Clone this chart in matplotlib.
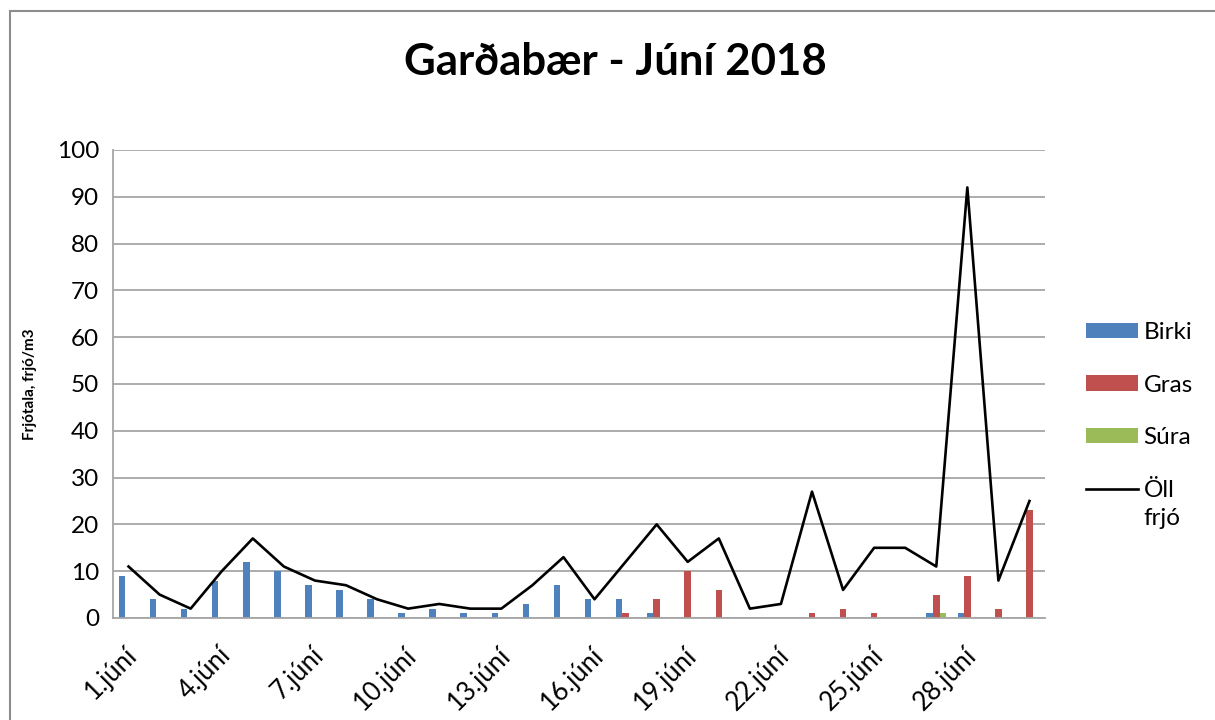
import numpy as np
import matplotlib
matplotlib.use("Agg")
import matplotlib.pyplot as plt
from matplotlib.patches import Rectangle
import matplotlib.transforms as mtransforms

plt.rcParams['font.family'] = ['Lato', 'DejaVu Sans']

# daily pollen counts, June 2018
days = list(range(1, 31))
birki = [9, 4, 2, 8, 12, 10, 7, 6, 4, 1, 2, 1, 1, 3, 7, 4, 4, 1, 0, 0,
         0, 0, 0, 0, 0, 0, 1, 1, 0, 0]
gras = [0, 0, 0, 0, 0, 0, 0, 0, 0, 0, 0, 0, 0, 0, 0, 0, 1, 4, 10, 6,
        0, 0, 1, 2, 1, 0, 5, 9, 2, 23]
sura = [0, 0, 0, 0, 0, 0, 0, 0, 0, 0, 0, 0, 0, 0, 0, 0, 0, 0, 0, 0,
        0, 0, 0, 0, 0, 0, 1, 0, 0, 0]
oll = [11, 5, 2, 10, 17, 11, 8, 7, 4, 2, 3, 2, 2, 7, 13, 4, 12, 20, 12, 17,
       2, 3, 27, 6, 15, 15, 11, 92, 8, 25]
xlabels = [f"{d}.júní" if (d - 1) % 3 == 0 else "" for d in days]

W, H = 1215, 720
fig = plt.figure(figsize=(W / 100, H / 100), dpi=100)
ax = fig.add_axes([113 / W, 1 - 618 / H, (1045 - 113) / W, (618 - 150) / H])

x = np.arange(len(days))
bw = 0.21
b1 = ax.bar(x - bw, birki, bw, color='#4F81BD', label='Birki', zorder=2)
b2 = ax.bar(x, gras, bw, color='#C0504D', label='Gras', zorder=2)
b3 = ax.bar(x + bw, sura, bw, color='#9BBB59', label='Súra', zorder=2)
l1, = ax.plot(x, oll, color='black', lw=1.9, label='Öll', zorder=3)

ax.set_xlim(-0.5, 29.5)
ax.set_ylim(0, 100)
ax.set_yticks(range(0, 101, 10))
ax.yaxis.grid(True, color='#a6a6a6', lw=1.3, zorder=0)
ax.set_axisbelow(True)
for s in ['top', 'right']:
    ax.spines[s].set_visible(False)
for s in ['left', 'bottom']:
    ax.spines[s].set_color('#a6a6a6')
    ax.spines[s].set_linewidth(1.3)
ax.tick_params(axis='y', length=0, pad=10, labelsize=17.5)
ax.tick_params(axis='x', length=0, pad=24, labelsize=18.5)
ax.set_xticks(x)
ax.set_xticklabels(xlabels, rotation=45, ha='right', va='center',
                   rotation_mode='anchor')
offset = mtransforms.ScaledTranslation(0.05, 0, fig.dpi_scale_trans)
for lab in ax.get_xticklabels():
    lab.set_transform(lab.get_transform() + offset)

fig.text(30 / W, 1 - 384 / H, 'Frjótala, frjó/m3', rotation=90, fontsize=11,
         fontweight='bold', ha='center', va='center')
fig.text(615 / W, 1 - 62 / H, 'Garðabær - Júní 2018', fontsize=31.5,
         fontweight='bold', ha='center', va='center')

leg = fig.legend([b1, b2, b3, l1], ['Birki', 'Gras', 'Súra', 'Öll'],
                 loc='upper left', bbox_to_anchor=(1086 / W, 1 - 322 / H),
                 frameon=False, fontsize=17.5, borderpad=0, borderaxespad=0,
                 handlelength=2.15, handleheight=0.6, handletextpad=0.22,
                 labelspacing=1.3)

fig.add_artist(Rectangle((10 / W, -0.1), 1.2, 1 - 10.5 / H + 0.1,
                         transform=fig.transFigure, fill=False,
                         ec='#8c8c8c', lw=1.5))

fig.canvas.draw()
bb = leg.get_texts()[3].get_window_extent()
fig.text(bb.x0 / W, (bb.y0 - 7) / H, 'frjó', fontsize=17.5, ha='left', va='top')

fig.savefig('out.png', dpi=100)
